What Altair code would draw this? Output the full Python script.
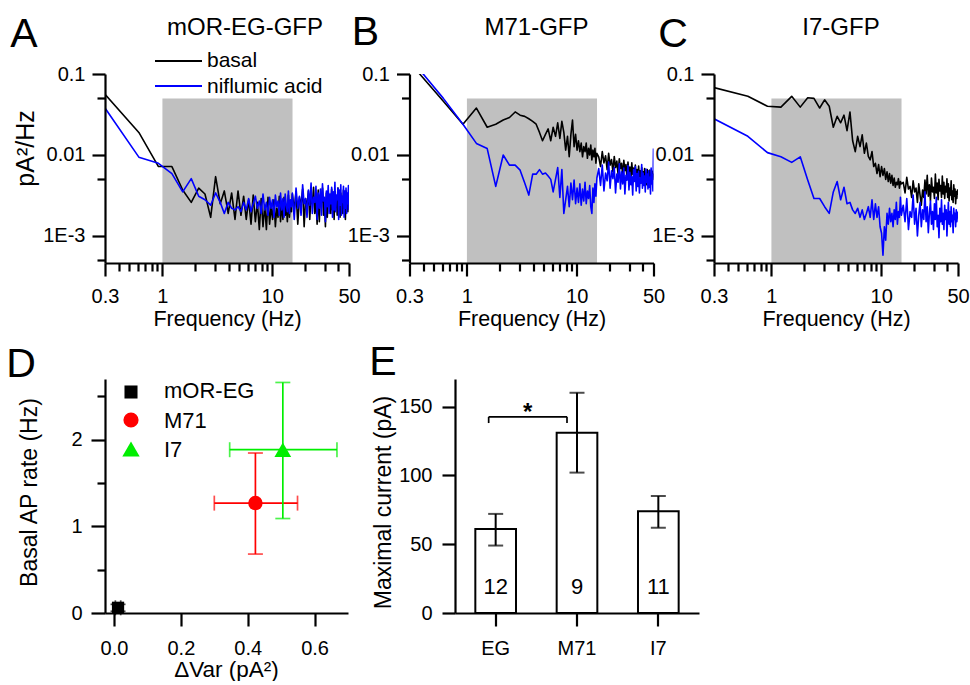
import altair as alt
import pandas as pd

FONT = "Liberation Sans"

# ---------------- spectra (panels A-C) ----------------
# frequency bins (Hz)
freq = [0.30, 0.61, 0.92, 1.22, 1.53, 1.83, 2.14, 2.44, 2.75, 3.05,
        3.36, 3.66, 3.97, 4.27, 4.58, 4.88, 5.19, 5.49, 5.80, 6.10,
        6.41, 6.71, 7.02, 7.32, 7.63, 7.93, 8.24, 8.54, 8.85, 9.15,
        9.46, 9.76, 10.07, 10.37, 10.68, 10.98, 11.29, 11.59, 11.90, 12.20,
        12.51, 12.81, 13.12, 13.42, 13.73, 14.03, 14.34, 14.64, 14.95, 15.25,
        15.86, 16.47, 17.08, 17.69, 18.30, 18.91, 19.52, 20.13, 20.74, 21.35,
        21.96, 22.57, 23.18, 23.79, 24.40, 25.01, 25.62, 26.23, 26.84, 27.45,
        28.06, 28.67, 29.28, 29.89, 30.50, 31.11, 31.72, 32.33, 32.94, 33.55,
        34.16, 34.77, 35.38, 35.99, 36.60, 37.21, 37.82, 38.43, 39.04, 39.65,
        40.26, 40.87, 41.48, 42.09, 42.70, 43.31, 43.92, 44.53, 45.14, 45.75,
        46.36, 46.97, 47.58, 48.19, 48.80, 49.41, 50.0]

# power spectral density, in 1e-3 pA^2/Hz
a_basal = [56, 19, 7.2, 7.2, 3.7, 2.6, 3.9, 3.3, 1.7, 5.4,
           2.5, 3.6, 1.9, 3.4, 1.6, 3.6, 1.8, 3.1, 1.6, 2.8,
           1.4, 3.2, 1.5, 2.6, 1.2, 2.9, 1.3, 2.4, 1.2, 3.0,
           1.4, 2.3, 1.6, 2.8, 1.3, 2.2, 1.7, 3.1, 1.5, 2.5,
           1.6, 3.0, 1.8, 2.4, 1.5, 3.2, 1.7, 2.7, 2.0, 3.3,
           2.1, 3.5, 1.4, 3.0, 2.4, 3.8, 1.3, 2.9, 2.2, 3.6,
           1.6, 3.1, 2.5, 4.0, 1.9, 2.8, 1.4, 3.7, 1.5, 3.2,
           2.6, 3.9, 1.8, 2.7, 1.3, 3.4, 1.7, 3.6, 2.4, 2.9,
           1.9, 3.8, 2.1, 3.0, 1.6, 3.5, 2.5, 2.8, 1.8, 3.9,
           2.3, 3.1, 1.7, 3.4, 2.6, 2.9, 1.9, 3.7, 2.2, 3.3,
           1.6, 3.6, 2.4, 3.0, 2.0, 3.2, 2.7]
a_nfa = [38, 9.4, 7.9, 5.9, 3.5, 5.1, 3.1, 2.8, 2.4, 3.4,
         2.6, 1.9, 2.6, 2.2, 2.1, 2.3, 2.0, 2.6, 2.1, 2.9,
         2.0, 2.5, 3.1, 2.2, 2.7, 1.9, 3.3, 2.1, 2.6, 1.8,
         3.0, 2.2, 2.8, 1.7, 3.2, 2.3, 2.7, 1.8, 3.4, 2.1,
         2.9, 1.7, 3.3, 2.4, 2.0, 3.6, 1.9, 2.8, 2.3, 3.4,
         1.6, 3.9, 2.2, 3.1, 1.8, 4.3, 2.5, 2.9, 1.7, 3.7,
         2.4, 4.5, 1.9, 3.0, 2.6, 4.1, 1.6, 3.4, 2.2, 3.8,
         1.8, 4.4, 2.7, 3.0, 1.5, 3.6, 2.3, 4.2, 1.9, 3.3,
         2.5, 4.0, 1.7, 3.5, 2.1, 4.6, 2.0, 3.2, 2.8, 3.9,
         1.6, 3.7, 2.4, 4.3, 1.8, 3.1, 2.6, 4.1, 1.7, 3.6,
         2.2, 3.9, 1.9, 3.4, 2.5, 4.2, 2.1]
b_basal = [140, 46, 24, 38, 22, 24, 27, 29, 34, 31,
           30, 28, 26, 24, 19, 15, 18, 21, 15, 22,
           17, 25, 16, 26, 19, 11.5, 17, 9.5, 18, 27,
           12.7, 18, 11.5, 15, 11, 14, 9.5, 12.7, 11, 14,
           9.1, 12.1, 10, 13.3, 8.7, 11.5, 9.5, 12.1, 7.9, 10.5,
           9.5, 7.2, 11, 8.0, 9.8, 6.6, 10.5, 7.5, 8.8, 6.2,
           9.6, 7.0, 8.4, 5.8, 9.0, 6.8, 7.9, 5.5, 8.6, 6.4,
           7.6, 5.3, 8.2, 6.0, 7.1, 5.0, 8.0, 5.8, 6.9, 4.8,
           7.5, 5.6, 6.6, 4.6, 7.3, 5.4, 6.4, 4.5, 7.0, 5.2,
           6.2, 4.4, 6.8, 5.0, 6.0, 4.3, 6.6, 5.1, 5.8, 4.2,
           6.5, 4.9, 5.7, 4.5, 6.3, 5.0, 5.9]
b_nfa = [160, 50, 24, 13.9, 12, 4.1, 10, 7.5, 7.5, 6.5,
         4.5, 3.2, 5.8, 5.8, 6.6, 5.8, 6.0, 5.5, 5.0, 3.5,
         5.0, 7.0, 3.0, 6.6, 1.9, 2.8, 4.1, 2.3, 4.5, 2.8,
         4.9, 2.5, 3.9, 2.6, 4.4, 2.4, 3.8, 2.7, 4.6, 2.5,
         3.6, 2.9, 4.2, 2.3, 1.9, 3.9, 2.6, 4.4, 3.1, 5.2,
         6.8, 4.2, 7.5, 3.6, 6.0, 4.8, 8.2, 3.9, 6.4, 5.1,
         7.0, 3.4, 5.8, 4.6, 7.8, 3.8, 6.2, 4.4, 6.9, 3.3,
         5.6, 4.9, 7.4, 3.7, 6.1, 4.3, 5.4, 3.2, 6.6, 4.7,
         7.2, 3.6, 5.9, 4.1, 6.3, 3.4, 5.2, 4.5, 7.6, 3.9,
         6.0, 4.2, 5.5, 3.5, 6.7, 4.6, 5.8, 3.8, 6.4, 4.0,
         5.3, 3.3, 6.9, 4.4, 5.7, 3.6, 12]
c_basal = [68, 53, 40, 39, 53, 39, 51, 50, 38, 48,
           40, 22, 30, 25, 31, 20, 34, 15, 11, 17,
           12.7, 17.7, 10.5, 14, 9.6, 8.7, 11, 7.2, 7.9, 5.9,
           7.6, 5.4, 7.2, 5.6, 6.8, 5.0, 6.2, 4.7, 5.9, 4.5,
           5.6, 4.2, 5.2, 4.0, 4.6, 4.3, 5.1, 3.9, 4.7, 4.4,
           4.6, 3.4, 5.3, 3.8, 4.1, 3.0, 4.8, 3.5, 3.9, 2.6,
           4.4, 3.2, 2.4, 3.7, 3.0, 4.9, 3.3, 5.6, 3.1, 4.3,
           2.7, 5.2, 3.5, 4.0, 2.9, 5.8, 3.4, 4.5, 2.8, 5.0,
           3.6, 4.2, 3.0, 5.5, 3.3, 4.6, 2.9, 4.1, 3.5, 5.1,
           3.0, 4.4, 2.7, 3.9, 3.2, 4.8, 2.8, 3.6, 2.6, 4.3,
           3.1, 3.8, 2.5, 3.5, 2.9, 3.7, 3.2]
c_nfa = [28, 17, 10.7, 9.5, 8.1, 9.5, 4.9, 2.9, 2.9, 2.3,
         1.9, 3.5, 4.7, 2.8, 4.0, 2.5, 2.6, 2.1, 1.9, 2.2,
         1.7, 2.1, 1.6, 1.9, 2.3, 1.7, 2.8, 1.6, 2.5, 1.7,
         2.3, 1.3, 1.08, 0.58, 1.3, 0.89, 1.9, 1.4, 2.2, 1.5,
         1.9, 1.3, 2.1, 1.6, 2.6, 1.4, 2.0, 1.7, 3.0, 1.8,
         2.4, 1.5, 2.9, 1.2, 2.0, 1.7, 3.2, 1.4, 2.2, 1.0,
         1.8, 2.6, 1.3, 2.1, 1.6, 3.5, 1.5, 2.3, 1.1, 1.9,
         2.7, 1.4, 2.0, 1.2, 2.5, 1.6, 3.0, 1.3, 1.8, 0.95,
         2.2, 1.5, 2.8, 1.4, 1.9, 1.2, 2.4, 1.6, 2.1, 1.0,
         1.7, 2.6, 1.4, 2.0, 1.3, 2.3, 1.5, 1.8, 1.1, 2.2,
         1.6, 1.9, 1.3, 2.1, 1.5, 1.8, 2.0]

freq_domain = [0.3, 50]
psd_domain = [0.000464, 0.1]
shade_freq = [1.0, 15.3]
shade_top = 0.05
x_ticks = [0.3, 0.4, 0.5, 0.6, 0.7, 0.8, 0.9, 1, 2, 3, 4, 5, 6, 7, 8, 9, 10, 20, 30, 40, 50]
x_major = [0.3, 1, 10, 50]
x_major_labels = ["0.3", "1", "10", "50"]
y_ticks = [0.1, 0.05, 0.01, 0.005, 0.001, 0.0005]
y_major = [0.1, 0.01, 0.001]
y_major_labels = ["0.1", "0.01", "1E-3"]

# ---------------- panel D ----------------
d_groups = ["mOR-EG", "M71", "I7"]
d_var = [0.012, 0.423, 0.505]
d_var_lo = [0.004, 0.300, 0.346]
d_var_hi = [0.020, 0.549, 0.667]
d_rate = [0.06, 1.268, 1.884]
d_rate_lo = [0.02, 0.68, 1.09]
d_rate_hi = [0.10, 1.846, 2.66]
d_colors = ["#000000", "#ff0000", "#00ee00"]
d_shapes = ["square", "circle", "triangle-up"]
d_sizes = [150, 210, 280]
d_legend_sizes = [170, 230, 300]
d_x_ticks = [0.0, 0.1, 0.2, 0.3, 0.4, 0.5, 0.6, 0.7]
d_x_major = [0.0, 0.2, 0.4, 0.6]
d_x_labels = ["0.0", "0.2", "0.4", "0.6"]
d_y_ticks = [0, 0.5, 1, 1.5, 2, 2.5]
d_y_major = [0, 1, 2]
d_y_labels = ["0", "1", "2"]

# ---------------- panel E ----------------
e_groups = ["EG", "M71", "I7"]
e_mean = [61, 131, 74]
e_lo = [49, 102, 62]
e_hi = [72, 160, 85]
e_n = ["12", "9", "11"]
e_y_ticks = [0, 25, 50, 75, 100, 125, 150]
e_y_major = [0, 50, 100, 150]
e_y_labels = ["0", "50", "100", "150"]
sig_pair = ["EG", "M71"]
sig_top = 142.5
sig_bottom = 138
sig_star_y = 140
n_label_y = 14

E_SHIFT = 45.5  # panel E sits further right than the second grid column
Y_TITLE_SIZE = 23


def label_expr(vals, labels):
    s = "''"
    for v, l in reversed(list(zip(vals, labels))):
        s = f"datum.value == {v} ? '{l}' : {s}"
    return s


def major_test(vals):
    return " || ".join(f"datum.value == {v}" for v in vals)


def tick_size(major, big, small):
    return {"condition": {"test": major_test(major), "value": big}, "value": small}


def text_layer(label, x, y, size, align="center", weight="normal", baseline="alphabetic"):
    return alt.Chart(pd.DataFrame({"t": [label]})).mark_text(
        font=FONT, fontSize=size, align=align, baseline=baseline,
        fontWeight=weight, color="black"
    ).encode(text="t:N", x=alt.value(x), y=alt.value(y))


def spectrum_panel(basal, nfa, name, letter, letter_xy, title_x, y_title, legend, anchor):
    xs = alt.Scale(type="log", domain=freq_domain, nice=False)
    ys = alt.Scale(type="log", domain=psd_domain, nice=False)
    xaxis = alt.Axis(values=x_ticks, labelExpr=label_expr(x_major, x_major_labels),
                     tickSize=tick_size(x_major, 13, 8), labelPadding=10,
                     labelFlush=False, labelOverlap=False, zindex=1,
                     title="Frequency (Hz)", titleX=122, titleY=45,
                     titleBaseline="top", titleAlign="center")
    ykw = dict(values=y_ticks, labelExpr=label_expr(y_major, y_major_labels),
               tickSize=tick_size(y_major, 13, 8), labelPadding=7,
               labelOverlap=False, zindex=1)
    if y_title:
        ykw.update(title="pA²/Hz", titleAngle=270, titleX=-67, titleY=74,
                   titleBaseline="bottom", titleAlign="center", titleFontSize=Y_TITLE_SIZE + 2)
    else:
        ykw.update(title="")
    yaxis = alt.Axis(**ykw)

    shade = alt.Chart(pd.DataFrame({"f": [shade_freq[0]], "f2": [shade_freq[1]],
                                    "p": [psd_domain[0]], "p2": [shade_top]})
                      ).mark_rect(color="#c0c0c0").encode(
        x=alt.X("f:Q", scale=xs, axis=xaxis), x2="f2:Q",
        y=alt.Y("p:Q", scale=ys, axis=yaxis), y2="p2:Q")
    black = alt.Chart(pd.DataFrame({"f": freq, "p": [v / 1000 for v in basal]})).mark_line(
        color="#000000", strokeWidth=1.6, clip=True, strokeJoin="round").encode(
        x=alt.X("f:Q", scale=xs), y=alt.Y("p:Q", scale=ys))
    blue = alt.Chart(pd.DataFrame({"f": freq, "p": [v / 1000 for v in nfa]})).mark_line(
        color="#0000ff", strokeWidth=1.6, clip=True, strokeJoin="round").encode(
        x=alt.X("f:Q", scale=xs), y=alt.Y("p:Q", scale=ys))
    layers = [shade, black, blue,
              text_layer(letter, letter_xy[0], letter_xy[1], 41),
              text_layer(name, title_x, -39, 24)]
    if legend:
        for lbl, col, yy, ty in [("basal", "#000000", -13, -7), ("niflumic acid", "#0000ff", 12, 19)]:
            layers.append(alt.Chart(pd.DataFrame({"t": [lbl]})).mark_rule(
                color=col, strokeWidth=1.8).encode(x=alt.value(50), x2=alt.value(97), y=alt.value(yy)))
            layers.append(text_layer(lbl, 102, ty, 21, align="left"))
    if anchor:
        layers.append(alt.Chart(pd.DataFrame({"t": [0]})).mark_rule(opacity=0).encode(
            x=alt.value(-105), x2=alt.value(-104), y=alt.value(-74), y2=alt.value(-73)))
    return alt.layer(*layers).properties(width=244, height=189)


panel_a = spectrum_panel(a_basal, a_nfa, "mOR-EG-GFP", "A", (-81, -27), 140, True, True, True)
panel_b = spectrum_panel(b_basal, b_nfa, "M71-GFP", "B", (-44, -29), 127, False, False, False)
panel_c = spectrum_panel(c_basal, c_nfa, "I7-GFP", "C", (-41, -27), 127, False, False, False)

# ---------------- panel D ----------------
d_df = pd.DataFrame({"g": d_groups, "x": d_var, "xlo": d_var_lo, "xhi": d_var_hi,
                     "y": d_rate, "ylo": d_rate_lo, "yhi": d_rate_hi, "sz": d_sizes})
dxs = alt.Scale(domain=[-0.027, 0.7], nice=False, zero=False)
dys = alt.Scale(domain=[0, 2.7], nice=False)
dcol = alt.Color("g:N", scale=alt.Scale(domain=d_groups, range=d_colors), legend=None)
dxaxis = alt.Axis(values=d_x_ticks, labelExpr=label_expr(d_x_major, d_x_labels),
                  tickSize=tick_size(d_x_major, 13, 7), labelPadding=12, labelFlush=False,
                  labelOverlap=False, zindex=1,
                  title="ΔVar (pA²)", titleX=121, titleY=45, titleBaseline="top", titleAlign="center",
                  titleFontSize=22.5)
dyaxis = alt.Axis(values=d_y_ticks, labelExpr=label_expr(d_y_major, d_y_labels),
                  tickSize=tick_size(d_y_major, 14, 8), labelPadding=9, labelOverlap=False, zindex=1,
                  title="Basal AP rate (Hz)", titleAngle=270, titleX=-64, titleY=113,
                  titleBaseline="bottom", titleAlign="center", titleFontSize=Y_TITLE_SIZE)
dbase = alt.Chart(d_df)
d_xerr = dbase.mark_rule(strokeWidth=1.7).encode(
    x=alt.X("xlo:Q", scale=dxs, axis=dxaxis), x2="xhi:Q",
    y=alt.Y("y:Q", scale=dys, axis=dyaxis), color=dcol)
d_yerr = dbase.mark_rule(strokeWidth=1.7).encode(
    x=alt.X("x:Q", scale=dxs), y=alt.Y("ylo:Q", scale=dys), y2="yhi:Q", color=dcol)
d_caps_x = [dbase.mark_tick(orient="vertical", size=15, thickness=1.7).encode(
    x=alt.X(f"{c}:Q", scale=dxs), y=alt.Y("y:Q", scale=dys), color=dcol)
    for c in ["xlo", "xhi"]]
d_caps_y = [dbase.mark_tick(orient="horizontal", size=15, thickness=1.7).encode(
    x=alt.X("x:Q", scale=dxs), y=alt.Y(f"{c}:Q", scale=dys), color=dcol)
    for c in ["ylo", "yhi"]]
d_pts = dbase.mark_point(filled=True, opacity=1).encode(
    x=alt.X("x:Q", scale=dxs), y=alt.Y("y:Q", scale=dys), color=dcol,
    shape=alt.Shape("g:N", scale=alt.Scale(domain=d_groups, range=d_shapes), legend=None),
    size=alt.Size("sz:Q", scale=None))
d_layers = [d_xerr, d_yerr] + d_caps_x + d_caps_y + [d_pts, text_layer("D", -84, -2, 41)]
for g, col, shp, lsz, sy, ty in zip(d_groups, d_colors, d_shapes, d_legend_sizes,
                                    [13, 41, 70], [19, 49, 78]):
    d_layers.append(alt.Chart(pd.DataFrame({"t": [g]})).mark_point(
        filled=True, opacity=1, shape=shp, size=lsz, color=col).encode(
        x=alt.value(26), y=alt.value(sy)))
    d_layers.append(text_layer(g, 59, ty, 22, align="left"))
panel_d = alt.layer(*d_layers).properties(width=243, height=234)

# ---------------- panel E ----------------
e_df = pd.DataFrame({"g": e_groups, "m": e_mean, "lo": e_lo, "hi": e_hi, "n": e_n,
                     "ny": [n_label_y] * 3})
exs = alt.Scale(domain=e_groups, paddingInner=0.5, paddingOuter=0.25,
                range=[E_SHIFT, E_SHIFT + 244])
eys = alt.Scale(domain=[0, 170], nice=False)
exaxis = alt.Axis(title="", tickSize=13, labelPadding=12, labelAngle=0, zindex=1)
eyaxis = alt.Axis(values=e_y_ticks, labelExpr=label_expr(e_y_major, e_y_labels),
                  tickSize=tick_size(e_y_major, 13, 7), labelPadding=10, labelOverlap=False, zindex=1,
                  offset=-E_SHIFT,
                  title="Maximal current (pA)", titleAngle=270, titleX=-60, titleY=123,
                  titleBaseline="bottom", titleAlign="center", titleFontSize=Y_TITLE_SIZE)
ebase = alt.Chart(e_df)
e_bars = ebase.mark_bar(fill="white", stroke="black", strokeWidth=2).encode(
    x=alt.X("g:N", scale=exs, axis=exaxis, sort=e_groups), y=alt.Y("m:Q", scale=eys, axis=eyaxis))
e_err = ebase.mark_rule(color="black", strokeWidth=2).encode(
    x=alt.X("g:N", scale=exs, sort=e_groups), y=alt.Y("lo:Q", scale=eys), y2="hi:Q")
e_caps = [ebase.mark_tick(orient="horizontal", size=15, thickness=2, color="black").encode(
    x=alt.X("g:N", scale=exs, sort=e_groups), y=alt.Y(f"{c}:Q", scale=eys))
    for c in ["lo", "hi"]]
e_nlab = ebase.mark_text(font=FONT, fontSize=22, color="black", baseline="alphabetic").encode(
    x=alt.X("g:N", scale=exs, sort=e_groups), y=alt.Y("ny:Q", scale=eys), text="n:N")
sig_df = pd.DataFrame({"g": [sig_pair[0]], "g2": [sig_pair[1]], "top": [sig_top],
                       "bot": [sig_bottom], "sy": [sig_star_y], "s": ["*"]})
sbase = alt.Chart(sig_df)
e_sig_h = sbase.mark_rule(color="black", strokeWidth=1.7, xOffset=-7, x2Offset=-10).encode(
    x=alt.X("g:N", scale=exs, sort=e_groups), x2="g2:N", y=alt.Y("top:Q", scale=eys))
e_sig_l = sbase.mark_rule(color="black", strokeWidth=1.7, xOffset=-7).encode(
    x=alt.X("g:N", scale=exs, sort=e_groups), y=alt.Y("bot:Q", scale=eys), y2="top:Q")
e_sig_r = sbase.mark_rule(color="black", strokeWidth=1.7, xOffset=-10).encode(
    x=alt.X("g2:N", scale=exs, sort=e_groups), y=alt.Y("bot:Q", scale=eys), y2="top:Q")
e_star = sbase.mark_text(font=FONT, fontSize=24, fontWeight="bold", color="black", dx=32,
                         baseline="alphabetic").encode(
    x=alt.X("g:N", scale=exs, sort=e_groups), y=alt.Y("sy:Q", scale=eys), text="s:N")
panel_e = alt.layer(e_bars, e_err, *e_caps, e_nlab, e_sig_h, e_sig_l, e_sig_r, e_star,
                    text_layer("E", -72 + E_SHIFT, -4, 41)).properties(width=244, height=234)

chart = alt.concat(
    panel_a, panel_b, panel_c, panel_d, panel_e,
    columns=3, spacing={"row": 116, "column": 60.5}, bounds="flush", align="each",
    padding=0, background="white"
).configure_axis(
    domainColor="black", domainWidth=2.2, tickColor="black", tickWidth=2.2, grid=False,
    labelFont=FONT, labelFontSize=20, labelColor="black",
    titleFont=FONT, titleFontSize=21.5, titleFontWeight="normal", titleColor="black"
).configure_view(strokeWidth=0)

chart.save("out.html", embed_options={"renderer": "svg", "actions": False})
